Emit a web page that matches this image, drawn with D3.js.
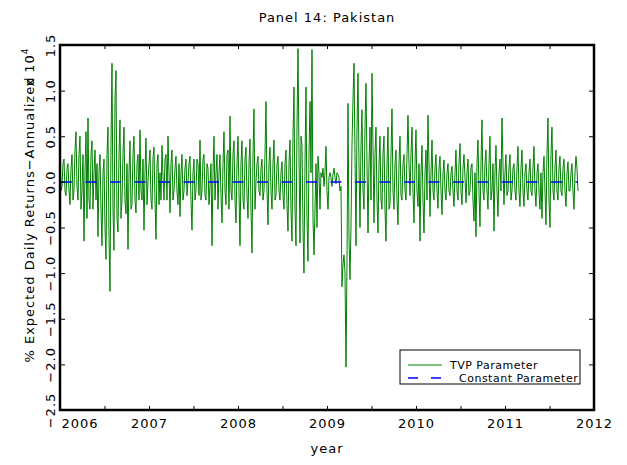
<!DOCTYPE html>
<html>
<head>
<meta charset="utf-8">
<script src="https://cdn.jsdelivr.net/npm/d3@7"></script>
<style>
  body { margin: 0; background: #fff; }
  svg text { font-family: "DejaVu Sans", sans-serif; fill: #000; }
</style>
</head>
<body>
<svg id="chart" width="627" height="465"></svg>
<script>
// Panel 14: Pakistan - expected daily returns, TVP vs constant parameter

const xTicks = [2006, 2006.5, 2007, 2007.5, 2008, 2008.5, 2009, 2009.5, 2010, 2010.5, 2011, 2011.5, 2012];
const yTicks = [-2.5, -2.0, -1.5, -1.0, -0.5, 0.0, 0.5, 1.0, 1.5];
const startYear = 2006.0;
const endYear = 2011.82;

// TVP parameter values (roughly one every 4 days)
const tvp = [
  0.3,-0.1, -0.05,0.2, 0.25,-0.1, -0.15,0.15, 0.2,-0.1, -0.25,0.15, 0.3,-0.2, -0.1,0.35, 0.55,-0.05, -0.2,0.3,
  0.5,-0.3, -0.1,0.3, -0.65,0.1, 0.55,-0.4, 0.7,-0.2, -0.3,0.3, 0.45,-0.3, 0.1,0.35, -0.2,0.2, -0.6,0.1,
  0.3,-0.3, -0.7,0.1, 0.25,-0.5, -0.85,0.3, 0.6,-0.6, -1.2,0.4, 1.3,-0.3, -0.75,0.9, 1.22,-0.4, -0.55,0.3,
  0.68,-0.4, -0.2,0.3, 0.6,-0.2, -0.35,0.2, -0.74,0.1, 0.45,-0.3, -0.25,0.3, 0.5,-0.2, -0.34,0.2, 0.3,-0.2,
  0.57,-0.1, -0.2,0.25, -0.53,0.1, 0.48,-0.25, 0.0,0.2, 0.35,-0.2, -0.3,0.25, 0.38,-0.2, -0.63,0.2, 0.3,-0.25,
  0.1,-0.2, 0.4,0.05, -0.2,0.25, 0.3,-0.2, 0.5,0.1, -0.34,0.2, 0.35,-0.2, -0.1,0.15, 0.28,-0.1, -0.25,0.2,
  -0.38,0.1, 0.3,-0.2, -0.1,0.15, 0.25,-0.15, 0.0,0.2, 0.28,-0.2, -0.53,0.1, 0.25,-0.2, -0.1,0.25, 0.2,-0.15,
  // 2007.6 - 2009.0
  0.46,-0.2, -0.1,0.25, 0.3,-0.15, -0.2,0.2, 0.15,-0.25, -0.05,0.2, -0.7,0.1, 0.5,-0.2, 0.1,0.3, -0.3,0.1,
  0.3,-0.15, -0.45,0.2, 0.55,-0.1, -0.25,0.3, 0.35,-0.3, 0.72,-0.1, -0.2,0.3, 0.45,-0.2, -0.45,0.2, 0.5,-0.1,
  -0.7,0.2, 0.45,-0.2, -0.3,0.25, 0.38,-0.15, -0.4,0.2, 0.47,-0.3, -0.78,0.3, 0.8,-0.3, 0.0,0.2, 0.28,-0.1,
  -0.15,0.15, 0.25,-0.2, -0.1,0.3, 0.88,-0.1, -0.47,0.2, 0.38,-0.1, -0.3,0.2, 0.46,-0.2, -0.15,0.2, 0.28,-0.1,
  -0.2,0.1, 0.22,-0.15, -0.3,0.2, 0.35,-0.25, -0.54,0.2, 0.46,-0.3, -0.65,0.5, 1.04,-0.3, -0.7,0.6, 1.46,0.3,
  -0.67,0.5, 0.4,-0.5, -1.0,0.2, 1.04,-0.4, -0.87,0.3, 0.88,0.1, 1.45,-0.4, -0.8,-0.3, 0.2,-0.5, 0.28,0.1,
  -0.3,0.1, 0.05,0.15, -0.05,0.1, 0.39,-0.1, -0.3,0.05,
  // 2009.0 - 2010.5
  0.1,0.05, -0.05,0.08, 0.15,0.05, -0.02,0.1, 0.08,0.05, -0.1,-0.05, -1.15,-0.9, -0.8,-1.0, -2.03,-0.9, 0.86,-0.6,
  -1.07,-0.5, 0.4,0.9, 1.3,0.3, -0.7,0.6, 1.19,0.2, -0.5,0.4, 0.79,-0.1, -0.3,0.6, 1.08,0.2, -0.56,0.2,
  0.6,-0.2, 1.19,0.4, -0.45,0.3, 0.6,-0.2, -0.56,0.2, 0.5,-0.2, -0.3,0.3, 0.5,-0.3, -0.65,0.2, 0.6,-0.3,
  -0.25,0.3, 0.8,-0.1, -0.3,0.2, 0.35,-0.2, -0.47,0.2, 0.5,-0.15, -0.2,0.2, 0.3,-0.1, -0.2,0.3, 0.73,0.2,
  -0.15,0.3, 0.6,-0.1, -0.45,0.2, 0.57,-0.1, -0.27,0.2, -0.65,0.1, 0.4,-0.2, -0.56,0.1, 0.35,-0.2, 0.73,0.2,
  -0.38,0.1, 0.46,-0.1, -0.2,0.15, 0.3,-0.1, -0.29,0.15, 0.28,-0.1, -0.36,0.1, 0.24,-0.1, -0.2,0.1, 0.2,-0.1,
  -0.15,0.1, 0.17,-0.1, -0.27,0.1, 0.35,-0.1, -0.2,0.2, 0.42,-0.1, -0.25,0.15, 0.3,0.05,
  // 2010.5 - 2011.8
  -0.23,0.1, 0.25,-0.15, -0.1,0.15, 0.2,-0.2, -0.43,0.1, -0.6,0.2, 0.46,-0.1, -0.49,0.2, 0.68,-0.1, -0.2,0.2,
  0.35,-0.1, -0.3,0.2, 0.5,-0.2, -0.1,0.2, -0.54,0.1, 0.4,-0.1, -0.38,0.1, 0.25,-0.1, 0.7,0.2, -0.25,0.1,
  0.3,-0.15, -0.1,0.15, 0.3,-0.2, -0.1,0.15, 0.2,-0.1, -0.2,0.15, 0.39,-0.1, -0.27,0.15, 0.35,-0.1, -0.27,0.1,
  0.2,-0.1, -0.2,0.1, 0.25,-0.1, -0.15,0.15, 0.39,-0.1, -0.27,0.1, 0.2,-0.1, -0.3,0.1, -0.4,0.1, 0.28,-0.1,
  -0.47,0.3, 0.7,-0.2, -0.5,0.3, 0.6,-0.1, -0.2,0.15, 0.35,-0.1, -0.2,0.15, 0.28,-0.1, -0.15,0.15, 0.25,-0.1,
  -0.27,0.1, 0.22,-0.1, -0.1,0.1, 0.2,-0.1, -0.3,0.1, 0.28,0.15, -0.1
];
const constParam = [0.0];

const svg = d3.select('#chart');
const margin = {left: 60, right: 33, top: 45, bottom: 55};
const width = 627 - margin.left - margin.right;
const height = 465 - margin.top - margin.bottom;

const x = d3.scaleLinear().domain([2006, 2012]).range([margin.left, margin.left + width]);
const y = d3.scaleLinear().domain([-2.5, 1.5]).range([margin.top + height, margin.top]);

const step = (endYear - startYear) / (tvp.length - 1);
const tvpData = tvp.map((v, i) => ({t: startYear + i * step, v: v}));

// Series
svg.append('path')
  .datum(tvpData)
  .attr('fill', 'none')
  .attr('stroke', '#008000')
  .attr('stroke-width', 1)
  .attr('d', d3.line().x(d => x(d.t)).y(d => y(d.v)));

svg.append('line')
  .datum(constParam[0])
  .attr('x1', x(startYear) + 1)
  .attr('x2', x(endYear))
  .attr('y1', d => y(d))
  .attr('y2', d => y(d))
  .attr('stroke', '#0000ff')
  .attr('stroke-width', 1.5)
  .attr('stroke-dasharray', '11,13.5');

// Axes (ticks inward, IDL style)
const bottom = svg.append('g')
  .attr('transform', `translate(0,${margin.top + height})`)
  .call(d3.axisBottom(x).tickValues(xTicks).tickSize(-4).tickPadding(9)
    .tickFormat(d => Number.isInteger(d) ? d : ''));
svg.append('g')
  .attr('transform', `translate(0,${margin.top})`)
  .call(d3.axisTop(x).tickValues(xTicks).tickSize(-4).tickFormat(''));
const left = svg.append('g')
  .attr('transform', `translate(${margin.left},0)`)
  .call(d3.axisLeft(y).tickValues(yTicks).tickSize(-5).tickFormat(d3.format('.1f')));
svg.append('g')
  .attr('transform', `translate(${margin.left + width},0)`)
  .call(d3.axisRight(y).tickValues(yTicks).tickSize(-5).tickFormat(''));

svg.selectAll('.domain').remove();
svg.selectAll('.tick line').attr('stroke', '#000').attr('stroke-width', 1);

bottom.selectAll('text')
  .attr('font-size', 13)
  .attr('letter-spacing', 1)
  .attr('font-family', '"DejaVu Sans", sans-serif');
bottom.selectAll('.tick')
  .filter(d => d === 2006)
  .select('text')
  .attr('text-anchor', 'start')
  .attr('x', 1);

left.selectAll('text')
  .attr('font-size', 13)
  .attr('letter-spacing', 1)
  .attr('font-family', '"DejaVu Sans", sans-serif')
  .attr('x', null).attr('dy', null)
  .attr('text-anchor', 'middle')
  .attr('transform', 'translate(-5,0) rotate(-90)');

// Frame
svg.append('rect')
  .attr('x', margin.left)
  .attr('y', margin.top)
  .attr('width', width)
  .attr('height', height)
  .attr('fill', 'none')
  .attr('stroke', '#000')
  .attr('stroke-width', 2.5);

// Titles
svg.append('text')
  .attr('x', 327).attr('y', 22)
  .attr('text-anchor', 'middle')
  .attr('font-size', 13)
  .attr('letter-spacing', 1)
  .text('Panel 14: Pakistan');

svg.append('text')
  .attr('x', 327).attr('y', 453)
  .attr('text-anchor', 'middle')
  .attr('font-size', 13)
  .attr('letter-spacing', 1)
  .text('year');

const ylab = svg.append('text')
  .attr('transform', 'translate(34,205) rotate(-90)')
  .attr('text-anchor', 'middle')
  .attr('font-size', 13)
  .attr('letter-spacing', 1);
ylab.append('tspan').text('% Expected Daily Returns\u2212Annualized');
ylab.append('tspan').attr('dx', -10).text('x 10');
ylab.append('tspan').attr('dy', -6).attr('font-size', 9).text('4');

// Legend
const legend = svg.append('g').attr('transform', 'translate(400,350)');
legend.append('rect')
  .attr('width', 180).attr('height', 34)
  .attr('fill', '#fff').attr('stroke', '#000').attr('stroke-width', 1);
const legendItems = [
  {label: 'TVP Parameter', color: '#008000', dash: null, tx: 50},
  {label: 'Constant Parameter', color: '#0000ff', dash: '10,13', tx: 59}
];
legend.selectAll('line.item')
  .data(legendItems)
  .enter().append('line')
    .attr('class', 'item')
    .attr('x1', 8).attr('x2', 42)
    .attr('y1', (d, i) => 15 + i * 13)
    .attr('y2', (d, i) => 15 + i * 13)
    .attr('stroke', d => d.color)
    .attr('stroke-width', (d, i) => i ? 1.5 : 1)
    .attr('stroke-dasharray', d => d.dash);
legend.selectAll('text.item')
  .data(legendItems)
  .enter().append('text')
    .attr('class', 'item')
    .attr('x', d => d.tx)
    .attr('y', (d, i) => 19 + i * 13)
    .attr('font-size', 11)
    .attr('letter-spacing', 0.5)
    .text(d => d.label);
</script>
</body>
</html>
